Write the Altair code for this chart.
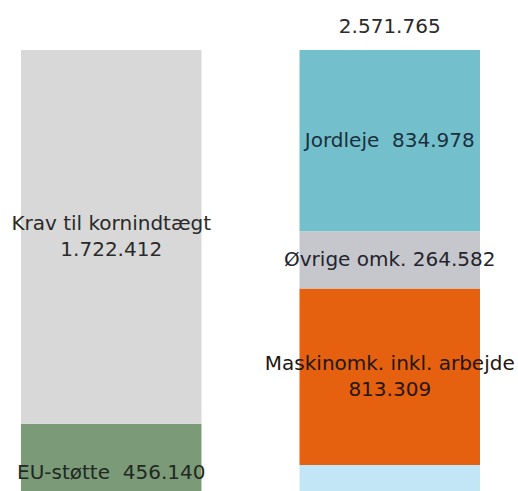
import altair as alt
import pandas as pd

# Data (DKK)
bars = ["Indtægt", "Omkostning", "Indtægt", "Indtægt", "Omkostning", "Omkostning", "Omkostning"]
segments = ["Øvrig indtægt", "Øvrige udgifter", "EU-støtte", "Krav til kornindtægt",
            "Maskinomk. inkl. arbejde", "Øvrige omk.", "Jordleje"]
values = [393213, 658896, 456140, 1722412, 813309, 264582, 834978]
order = [0, 0, 1, 2, 1, 2, 3]
colors = ["#c9d7c3", "#c3e6f7", "#7b9a77", "#d8d8d8", "#e5600f", "#c5c7cc", "#74bfcc"]
labels = ["", "", "EU-støtte\u00a0 456.140", "Krav til kornindtægt\n1.722.412",
          "Maskinomk. inkl. arbejde\n813.309", "Øvrige omk. 264.582", "Jordleje\u00a0 834.978"]
text_colors = ["#2a2a2a", "#2a2a2a", "#222822", "#2a2a2a", "#24160f", "#24242c", "#1a303c"]
total_label = "2.571.765"
total_value = 2571765

df = pd.DataFrame({"bar": bars, "seg": segments, "value": values, "order": order,
                   "color": colors, "label": labels, "tcolor": text_colors})
df = df.sort_values(["bar", "order"])
df["y0"] = df.groupby("bar")["value"].cumsum() - df["value"]
df["y1"] = df["y0"] + df["value"]
df["mid"] = (df["y0"] + df["y1"]) / 2
df["lines"] = df["label"].str.count("\n") + 1

W, H = 518, 491
yscale = alt.Scale(domain=[539200, 2802230], nice=False, zero=False)
xscale = alt.Scale(domain=["Indtægt", "Omkostning"], range=[21, 480],
                   paddingInner=0.352, paddingOuter=0)

base = alt.Chart(df)
rects = base.mark_bar(clip=True).encode(
    x=alt.X("bar:N", scale=xscale, axis=None),
    y=alt.Y("y0:Q", scale=yscale, axis=None),
    y2="y1:Q",
    color=alt.Color("color:N", scale=None, legend=None),
)

font = "DejaVu Sans"
one_line = base.transform_filter(
    (alt.datum.label != "") & (alt.datum.lines == 1)
).mark_text(font=font, fontSize=20, align="center", baseline="middle").encode(
    x=alt.X("bar:N", scale=xscale, axis=None),
    y=alt.Y("mid:Q", scale=yscale, axis=None),
    text="label:N",
    color=alt.Color("tcolor:N", scale=None, legend=None),
)
two_line = base.transform_filter(alt.datum.lines == 2).mark_text(
    font=font, fontSize=20, align="center", baseline="middle",
    lineBreak="\n", lineHeight=26, dy=-13).encode(
    x=alt.X("bar:N", scale=xscale, axis=None),
    y=alt.Y("mid:Q", scale=yscale, axis=None),
    text="label:N",
    color=alt.Color("tcolor:N", scale=None, legend=None),
)

tot = alt.Chart(pd.DataFrame({"bar": ["Omkostning"], "v": [total_value], "t": [total_label]})).mark_text(
    font=font, fontSize=20, color="#2a2a2a", align="center", baseline="middle", dy=-23).encode(
    x=alt.X("bar:N", scale=xscale, axis=None),
    y=alt.Y("v:Q", scale=yscale, axis=None),
    text="t:N",
)

chart = alt.layer(rects, one_line, two_line, tot).properties(
    width=W, height=H, padding=0, autosize=alt.AutoSizeParams(type="none"),
    background="white",
).configure_view(stroke=None)

chart.save("out.html", embed_options={"renderer": "svg", "actions": False})
